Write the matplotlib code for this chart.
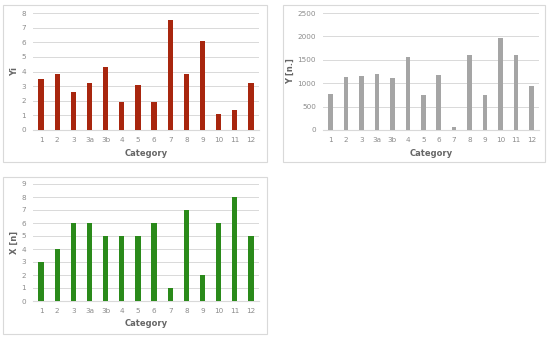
import matplotlib.pyplot as plt
from matplotlib.patches import Rectangle

# categories shared by all three charts
cats = ['1', '2', '3', '3a', '3b', '4', '5', '6', '7', '8', '9', '10', '11', '12']

yi = [3.5, 3.8, 2.6, 3.2, 4.3, 1.9, 3.1, 1.9, 7.5, 3.8, 6.1, 1.1, 1.4, 3.2]
y_n = [760, 1140, 1150, 1200, 1120, 1550, 750, 1180, 60, 1600, 740, 1970, 1600, 940]
x_n = [3, 4, 6, 6, 5, 5, 5, 6, 1, 7, 2, 6, 8, 5]

grid_c = '#D9D9D9'
txt_c = '#8C8C8C'
lab_c = '#666666'

fig = plt.figure(figsize=(5.5, 3.37), dpi=100)

# chart frames (pixel boxes: x0, y0, x1, y1)
for x0, y0, x1, y1 in [(3, 5, 267, 162), (283, 5, 545, 162), (3, 177, 267, 334)]:
    fig.patches.append(Rectangle((x0 / 550, 1 - y1 / 337), (x1 - x0) / 550, (y1 - y0) / 337,
                                 transform=fig.transFigure, fill=False,
                                 edgecolor='#D9D9D9', linewidth=0.8))


def panel(rect, vals, color, ymax, step, ylabel, width, ypad):
    ax = fig.add_axes(rect)
    xs = range(len(cats))
    ax.bar(xs, vals, width=width, color=color, zorder=3)
    ax.set_xlim(-0.5, len(cats) - 0.5)
    ax.set_ylim(0, ymax)
    ax.set_yticks(range(0, ymax + 1, step))
    ax.set_xticks(list(xs))
    ax.set_xticklabels(cats)
    ax.yaxis.grid(True, color=grid_c, linewidth=0.7, zorder=0)
    for s in ['top', 'right', 'left']:
        ax.spines[s].set_visible(False)
    ax.spines['bottom'].set_color(grid_c)
    ax.tick_params(length=0, labelsize=5.2, colors=txt_c, pad=5)
    ax.set_xlabel('Category', fontsize=6, color=lab_c, fontweight='bold', labelpad=4)
    ax.set_ylabel(ylabel, fontsize=6, color=lab_c, fontweight='bold', labelpad=ypad)
    return ax


panel([33 / 550, 1 - 130 / 337, 226 / 550, 117 / 337], yi, '#A8260E', 8, 1, 'Yi', 0.33, 2)
panel([323 / 550, 1 - 130 / 337, 216 / 550, 117 / 337], y_n, '#A5A5A5', 2500, 500, 'Y [n.]', 0.3, 2)
panel([33 / 550, 1 - 301 / 337, 226 / 550, 117 / 337], x_n, '#2A8A1A', 9, 1, 'X [n]', 0.33, 2)

fig.savefig('out.png', dpi=100)
